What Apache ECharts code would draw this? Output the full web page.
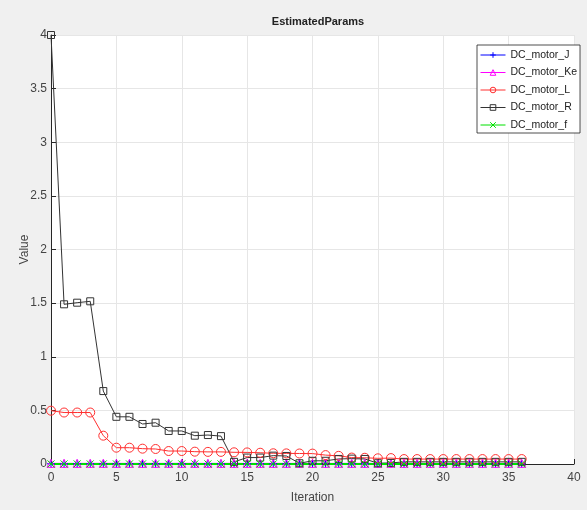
<!DOCTYPE html>
<html><head><meta charset="utf-8">
<script src="https://cdn.jsdelivr.net/npm/echarts@6/dist/echarts.min.js"></script>
<style>html,body{margin:0;padding:0;background:#f0f0f0}#c{width:587px;height:510px}</style>
</head><body><div id="c"></div>
<script>
const iterations = Array.from({length: 37}, (_, i) => i);
const J  = [0.002,0.002,0.002,0.002,0.002,0.002,0.002,0.002,0.002,0.002,0.002,0.002,0.002,0.002,0.002,0.002,0.002,0.002,0.002,0.002,0.002,0.002,0.002,0.002,0.002,0.002,0.002,0.002,0.002,0.002,0.002,0.002,0.002,0.002,0.002,0.002,0.002];
const Ke = [0.006,0.006,0.006,0.006,0.006,0.006,0.006,0.006,0.006,0.006,0.006,0.006,0.006,0.006,0.006,0.006,0.006,0.006,0.006,0.006,0.006,0.006,0.006,0.006,0.006,0.006,0.006,0.006,0.006,0.006,0.006,0.006,0.006,0.006,0.006,0.006,0.006];
const L  = [0.497,0.48,0.48,0.48,0.264,0.152,0.152,0.143,0.14,0.121,0.121,0.115,0.113,0.113,0.109,0.108,0.105,0.1,0.099,0.098,0.097,0.083,0.076,0.06,0.058,0.053,0.055,0.046,0.046,0.046,0.046,0.046,0.046,0.046,0.046,0.046,0.046];
const R  = [4.0,1.489,1.504,1.517,0.68,0.44,0.44,0.373,0.385,0.308,0.308,0.264,0.27,0.26,0.02,0.06,0.06,0.078,0.075,0.007,0.03,0.03,0.047,0.05,0.047,0.007,0.01,0.02,0.02,0.02,0.02,0.02,0.02,0.02,0.02,0.02,0.02];
const F  = [0.001,0.001,0.001,0.001,0.001,0.001,0.001,0.001,0.001,0.001,0.001,0.001,0.001,0.001,0.001,0.001,0.001,0.001,0.001,0.001,0.001,0.001,0.001,0.001,0.001,0.001,0.001,0.001,0.001,0.001,0.001,0.001,0.001,0.001,0.001,0.001,0.001];
const xTicks = [0,5,10,15,20,25,30,35,40];
const yTicks = [0,0.5,1,1.5,2,2.5,3,3.5,4];

const pair = arr => iterations.map((x, i) => [x, arr[i]]);
const FONT = '"Liberation Sans", Arial, sans-serif';
const chart = echarts.init(document.getElementById('c'));
function mk(name, data, color, symbol, size, lw) {
  return {
    name, type: 'line', data: pair(data), symbol, symbolSize: size,
    showSymbol: true, animation: false,
    lineStyle: {color, width: lw},
    itemStyle: {color: 'rgba(0,0,0,0)', borderColor: color, borderWidth: 1},
    emphasis: {disabled: true}
  };
}
chart.setOption({
  backgroundColor: '#f0f0f0',
  animation: false,
  title: {text: 'EstimatedParams', left: 313, textAlign: 'center', top: 11,
    textStyle: {fontFamily: FONT, fontSize: 11, fontWeight: 'bold', color: '#222'}},
  grid: {left: 51, right: 13, top: 35, bottom: 46, show: true, backgroundColor: '#fff', borderWidth: 0},
  legend: {
    orient: 'vertical', left: 477, top: 45,
    backgroundColor: '#fff', borderColor: '#222', borderWidth: 0.8,
    padding: [4, 3, 2, 3], itemGap: 5.5, itemWidth: 25, itemHeight: 7,
    lineStyle: {width: 1},
    itemStyle: {borderWidth: 1},
    textStyle: {fontFamily: FONT, fontSize: 10.5, lineHeight: 12, color: '#222'},
    data: ['DC_motor_J','DC_motor_Ke','DC_motor_L','DC_motor_R','DC_motor_f']
  },
  xAxis: {
    type: 'value', min: 0, max: 40, interval: 5,
    name: 'Iteration', nameLocation: 'middle', nameGap: 28, nameMoveOverlap: false,
    nameTextStyle: {fontFamily: FONT, fontSize: 12, color: '#444'},
    axisLine: {show: true, lineStyle: {color: '#262626', width: 1}},
    axisTick: {show: true, inside: true, length: 5, lineStyle: {color: '#262626'}},
    axisLabel: {fontFamily: FONT, fontSize: 12, color: '#444', margin: 8,
      formatter: v => xTicks.includes(v) ? String(v) : ''},
    splitLine: {show: true, lineStyle: {color: '#e6e6e6'}}
  },
  yAxis: {
    type: 'value', min: 0, max: 4, interval: 0.5,
    name: 'Value', nameLocation: 'middle', nameGap: 20, nameMoveOverlap: false,
    nameTextStyle: {fontFamily: FONT, fontSize: 12, color: '#444'},
    axisLine: {show: true, lineStyle: {color: '#262626', width: 1}},
    axisTick: {show: true, inside: true, length: 5, lineStyle: {color: '#262626'}},
    axisLabel: {fontFamily: FONT, fontSize: 12, color: '#444', margin: 4,
      formatter: v => yTicks.includes(v) ? String(v) : ''},
    splitLine: {show: true, lineStyle: {color: '#e6e6e6'}}
  },
  series: [
    mk('DC_motor_J', J, '#0000ff', 'path://M5,0 L5,10 M0,5 L10,5', 8, 1),
    mk('DC_motor_Ke', Ke, '#ff00ff', 'triangle', 8, 1),
    mk('DC_motor_L', L, '#ff3030', 'circle', 9, 1),
    mk('DC_motor_R', R, '#333333', 'rect', 7, 1),
    mk('DC_motor_f', F, '#00e000', 'path://M0,0 L10,10 M10,0 L0,10', 7, 2)
  ]
});
</script></body></html>
